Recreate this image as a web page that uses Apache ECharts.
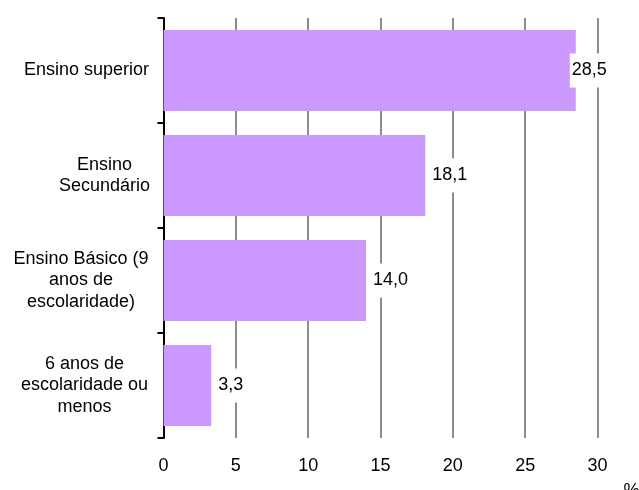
<!DOCTYPE html>
<html>
<head>
<meta charset="utf-8">
<script src="https://cdn.jsdelivr.net/npm/echarts@6/dist/echarts.min.js"></script>
<style>
html,body{margin:0;padding:0;background:#fff;}
#c{width:639px;height:490px;}
</style>
</head>
<body>
<div id="c"></div>
<script>
var categories = ['Ensino superior', 'Ensino\nSecundário', 'Ensino Básico (9\nanos de\nescolaridade)', '6 anos de\nescolaridade ou\nmenos'];
var values = [28.5, 18.1, 14.0, 3.3];
var xTicks = [0, 5, 10, 15, 20, 25, 30];
var unitLabel = '%';

var richKeys = ['a', 'b', 'c', 'd'];
var richWidths = [130, 94, 141, 134];
var rich = {};
richKeys.forEach(function (k, i) {
  rich[k] = { width: richWidths[i], align: 'center', fontSize: 18, lineHeight: 21.5, color: '#000', fontFamily: 'Liberation Sans, Arial, sans-serif' };
});

var chart = echarts.init(document.getElementById('c'), null, { renderer: 'canvas' });
chart.setOption({
  animation: false,
  backgroundColor: '#ffffff',
  grid: { left: 163.5, right: 41.5, top: 18, bottom: 52, containLabel: false, outerBoundsMode: 'none' },
  xAxis: {
    type: 'value',
    min: xTicks[0],
    max: xTicks[xTicks.length - 1],
    interval: 5,
    name: unitLabel,
    nameLocation: 'end',
    nameGap: 26,
    nameTextStyle: { fontSize: 18, color: '#000', fontFamily: 'Liberation Sans, Arial, sans-serif', verticalAlign: 'top', padding: [44, 0, 0, 0] },
    axisLine: { show: false },
    axisTick: { show: false },
    axisLabel: { margin: 19, fontSize: 18, color: '#000', fontFamily: 'Liberation Sans, Arial, sans-serif',
      formatter: function (v) { return String(v); } },
    splitLine: { show: true, lineStyle: { color: '#8c8c8c', width: 2 } }
  },
  yAxis: {
    type: 'category',
    inverse: true,
    data: categories,
    axisLine: { show: true, lineStyle: { color: '#000', width: 2 } },
    axisTick: { show: true, length: 6, lineStyle: { color: '#000', width: 2 } },
    axisLabel: {
      margin: 12,
      formatter: function (v, i) { return '{' + richKeys[i] + '|' + v + '}'; },
      rich: rich
    },
    splitLine: { show: false }
  },
  series: [{
    type: 'bar',
    barWidth: 81,
    itemStyle: { color: '#CC99FF' },
    z: 3,
    data: values.map(function (v, i) {
      var item = { value: v };
      if (i === 0) { item.label = { offset: [-11, 0] }; }
      return item;
    }),
    label: {
      show: true,
      position: 'right',
      distance: 5,
      color: '#000',
      fontSize: 18,
      lineHeight: 20,
      fontFamily: 'Liberation Sans, Arial, sans-serif',
      backgroundColor: '#ffffff',
      padding: [7, 2],
      formatter: function (p) { return p.value.toFixed(1).replace('.', ','); }
    }
  }]
});
</script>
</body>
</html>
